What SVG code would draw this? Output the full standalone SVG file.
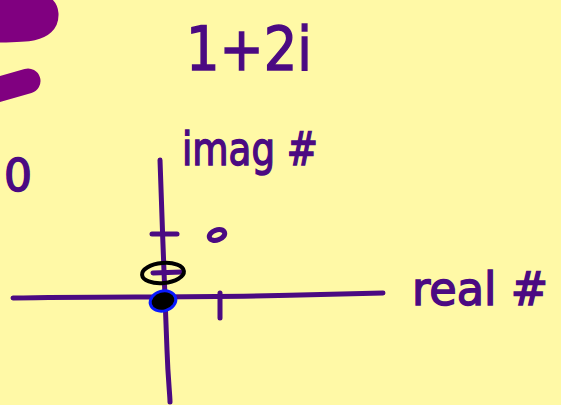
<svg xmlns="http://www.w3.org/2000/svg" width="561" height="405" viewBox="0 0 561 405">
<style>
.ink{fill:none;stroke:#4b0a82;stroke-width:5;stroke-linecap:round;stroke-linejoin:round}
.big{fill:none;stroke:#800080;stroke-width:25;stroke-linecap:round;stroke-linejoin:round}
.hw{font-family:"DejaVu Sans",sans-serif;fill:#4b0a82;stroke:#4b0a82;stroke-width:1.5}
</style>
<rect width="561" height="405" fill="#fff9a6"/>
<g id="marks">
<path class="big" d="M-10,8 C20,4 45,0 46,14 C47,30 25,30 -5,30"/>
<path class="big" d="M-10,92 L28,81"/>
</g>
<text class="hw" x="4" y="191" font-size="44">0</text>
<text class="hw" x="186" y="70" font-size="60" textLength="126" lengthAdjust="spacingAndGlyphs">1+2i</text>
<text class="hw" x="182" y="165" font-size="46" textLength="136" lengthAdjust="spacingAndGlyphs">imag #</text>
<text class="hw" x="412" y="305" font-size="46" textLength="136" lengthAdjust="spacingAndGlyphs">real #</text>
<g id="axes">
<path class="ink" d="M13,298 C100,296 200,298 300,295 L383,293"/>
<path class="ink" d="M160,160 C162,220 165,300 167,350 C168,380 170,395 170,402"/>
<path class="ink" d="M152,234 L177,234"/>
<path class="ink" d="M220,293 L220,318"/>
<path class="ink" d="M153,273 L182,272"/>
</g>
<g id="points">
<ellipse cx="217" cy="235" rx="8" ry="5" transform="rotate(-20 217 235)" class="ink" stroke-width="4"/>
<ellipse cx="163" cy="273" rx="21" ry="10" fill="none" stroke="#000" stroke-width="4" transform="rotate(-5 163 273)"/>
<ellipse cx="163" cy="301" rx="13" ry="10" fill="#000" stroke="#0a1aff" stroke-width="3" transform="rotate(-15 163 301)"/>
</g>
</svg>
